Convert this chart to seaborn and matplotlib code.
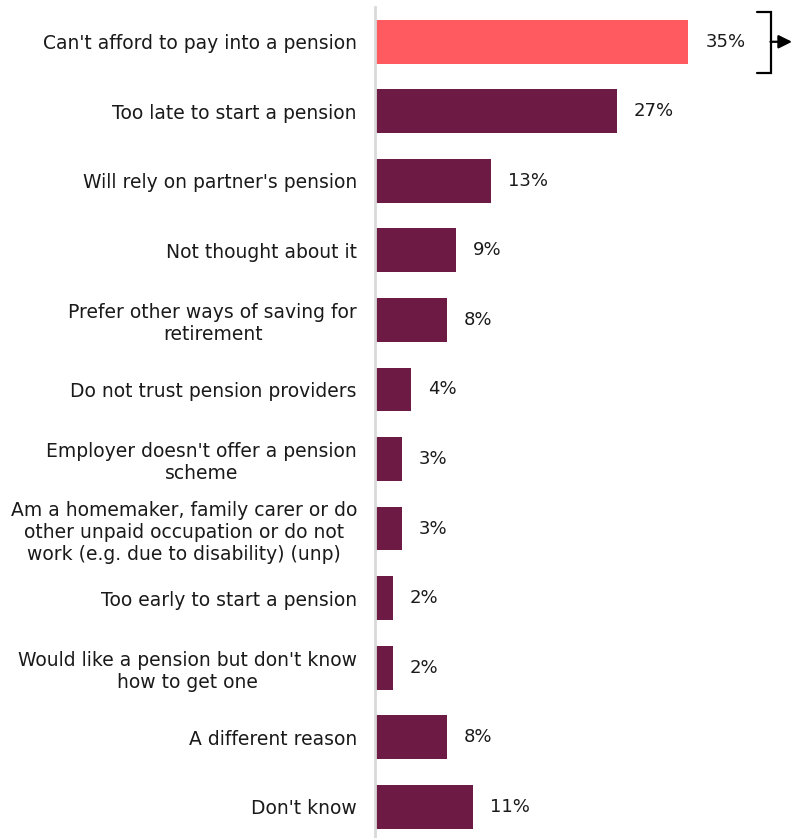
import matplotlib
matplotlib.use("Agg")
import matplotlib.pyplot as plt
import seaborn as sns
import pandas as pd

categories = [
    "Can't afford to pay into a pension",
    "Too late to start a pension",
    "Will rely on partner's pension",
    "Not thought about it",
    "Prefer other ways of saving for\nretirement",
    "Do not trust pension providers",
    "Employer doesn't offer a pension\nscheme",
    "Am a homemaker, family carer or do\nother unpaid occupation or do not\nwork (e.g. due to disability) (unp)",
    "Too early to start a pension",
    "Would like a pension but don't know\nhow to get one",
    "A different reason",
    "Don't know",
]
values = [35, 27, 13, 9, 8, 4, 3, 3, 2, 2, 8, 11]
highlight = "#FF5A5F"
base = "#6D1A45"
colors = [highlight] + [base] * (len(values) - 1)

df = pd.DataFrame({"reason": categories, "pct": values})

sns.set_theme(style="white")
plt.rcParams["font.family"] = ["DejaVu Sans"]

fig = plt.figure(figsize=(7.92, 8.38), dpi=100)
ax = fig.add_axes([375 / 792, 0, 417 / 792, 831 / 838])

sns.barplot(data=df, y="reason", x="pct", hue="reason", palette=colors,
            legend=False, width=0.63, orient="h", ax=ax, saturation=1,
            linewidth=0)

ax.set_xlim(0, 46.6)
ax.set_ylim(11.45, -0.5)
ax.set_xlabel("")
ax.set_ylabel("")
ax.set_xticks([])
ax.tick_params(axis="y", length=0, pad=13, labelsize=13.5, labelcolor="#1a1a1a")
for lab in ax.get_yticklabels():
    lab.set_horizontalalignment("right")
    lab.set_multialignment("center")

for s in ["top", "right", "bottom"]:
    ax.spines[s].set_visible(False)
ax.spines["left"].set_color("#D9D9D9")
ax.spines["left"].set_linewidth(2)

for i, v in enumerate(values):
    ax.text(v + 1.9, i, f"{v}%", va="center", ha="left", fontsize=13, color="#1a1a1a")

# bracket + arrow on the highlighted bar
ax.plot([42.7, 44.2, 44.2, 42.7], [-0.43, -0.43, 0.45, 0.45], color="black",
        lw=1.6, clip_on=False, solid_joinstyle="miter")
ax.annotate("", xy=(46.6, 0), xytext=(44.2, 0),
            arrowprops=dict(arrowstyle="-|>", color="black", lw=1.6, mutation_scale=20,
                            shrinkA=0, shrinkB=0),
            annotation_clip=False)

fig.savefig("out.png", dpi=100)
